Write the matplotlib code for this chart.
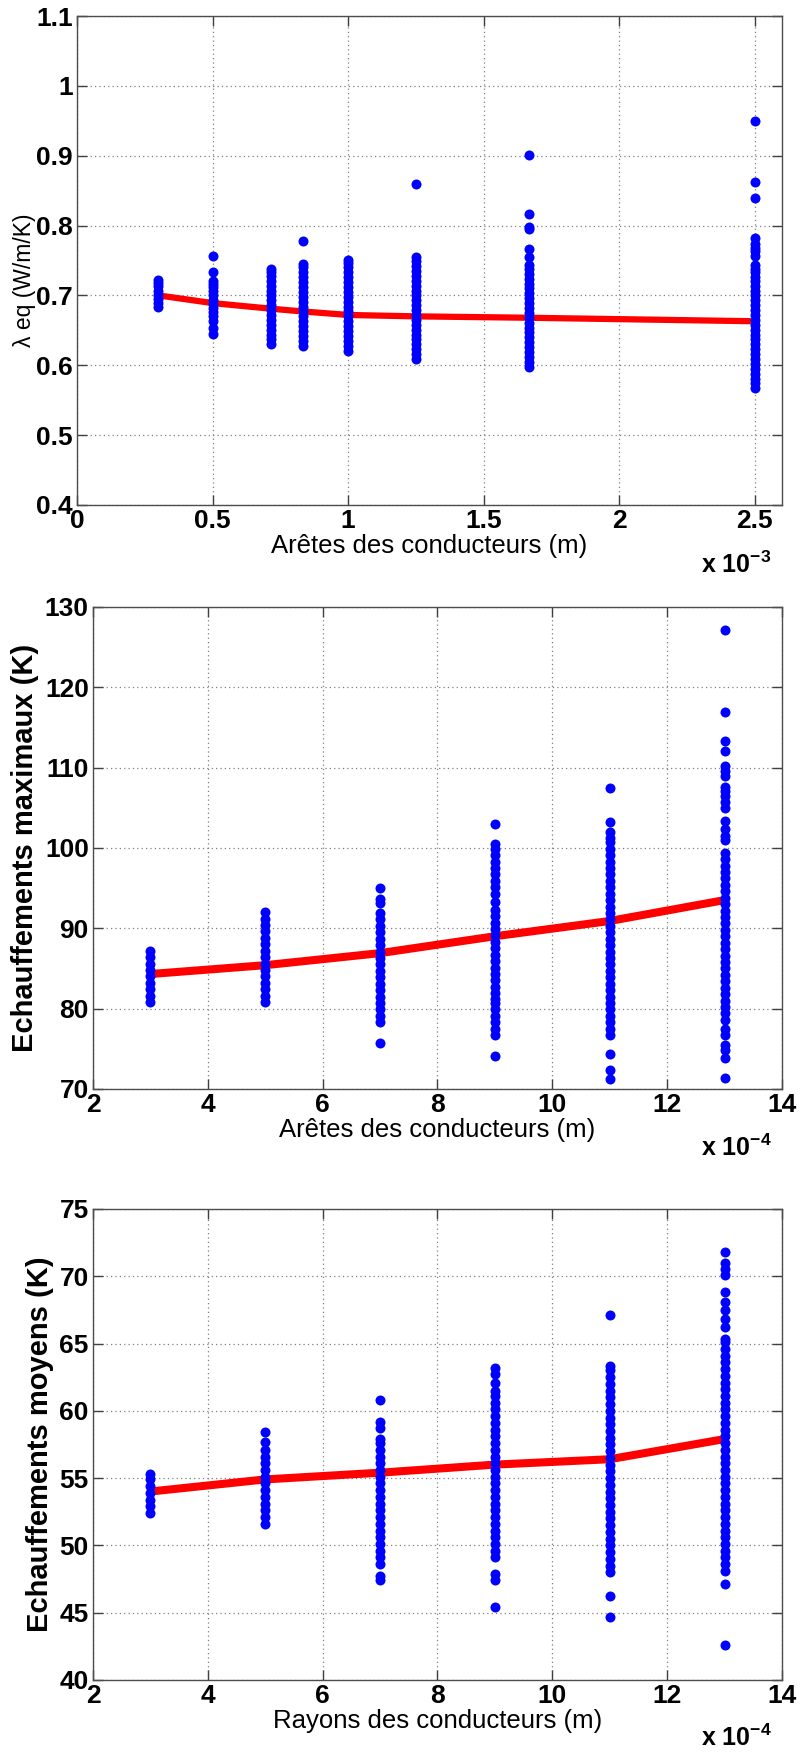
import matplotlib
matplotlib.use("Agg")
import matplotlib.pyplot as plt

# --- panel 1 : lambda eq vs edge length (x 1e-3 m)
p1_x = [0.3, 0.5, 0.714, 0.833, 1.0, 1.25, 1.667, 2.5]
p1_mean = [0.700, 0.689, 0.681, 0.677, 0.672, 0.670, 0.668, 0.663]
p1_pts = [
    [0.683, 0.689, 0.695, 0.701, 0.707, 0.713, 0.718, 0.722],
    [0.645, 0.654, 0.664, 0.670, 0.676, 0.682, 0.688, 0.694, 0.700, 0.706, 0.712, 0.717, 0.721,
     0.733, 0.757],
    [0.630, 0.637, 0.644, 0.651, 0.658, 0.665, 0.672, 0.679, 0.686, 0.693, 0.700, 0.707, 0.714,
     0.721, 0.728, 0.734, 0.738],
    [0.628, 0.635, 0.642, 0.649, 0.656, 0.663, 0.670, 0.677, 0.684, 0.691, 0.698, 0.705, 0.712,
     0.719, 0.726, 0.733, 0.740, 0.745, 0.778],
    [0.621, 0.628, 0.635, 0.642, 0.649, 0.656, 0.663, 0.670, 0.677, 0.684, 0.691, 0.698, 0.705,
     0.712, 0.719, 0.726, 0.733, 0.740, 0.746, 0.750],
    [0.609, 0.616, 0.623, 0.630, 0.637, 0.644, 0.651, 0.658, 0.665, 0.672, 0.679, 0.686, 0.693,
     0.700, 0.707, 0.714, 0.721, 0.728, 0.735, 0.742, 0.749, 0.755, 0.859],
    [0.598, 0.605, 0.612, 0.619, 0.626, 0.633, 0.640, 0.647, 0.654, 0.661, 0.668, 0.675, 0.682,
     0.689, 0.696, 0.703, 0.710, 0.717, 0.724, 0.731, 0.738, 0.743, 0.755, 0.766, 0.795, 0.798,
     0.817, 0.901],
    [0.567, 0.574, 0.581, 0.588, 0.595, 0.602, 0.609, 0.616, 0.623, 0.630, 0.637, 0.644, 0.651,
     0.658, 0.665, 0.672, 0.679, 0.686, 0.693, 0.700, 0.707, 0.714, 0.721, 0.727, 0.733, 0.738,
     0.743, 0.757, 0.763, 0.768, 0.774, 0.782, 0.840, 0.863, 0.949],
]
p1_xticks = [0, 0.5, 1, 1.5, 2, 2.5]
p1_xticklabels = ['0', '0.5', '1', '1.5', '2', '2.5']
p1_yticks = [0.4, 0.5, 0.6, 0.7, 0.8, 0.9, 1.0, 1.1]
p1_yticklabels = ['0.4', '0.5', '0.6', '0.7', '0.8', '0.9', '1', '1.1']

# --- panel 2 : max heating vs edge length (x 1e-4 m)
p2_x = [3, 5, 7, 9, 11, 13]
p2_mean = [84.3, 85.4, 86.9, 89.0, 90.9, 93.5]
p2_pts = [
    [80.8, 81.6, 82.4, 83.2, 84.0, 84.8, 85.6, 86.4, 87.2],
    [80.8, 81.6, 82.4, 83.2, 84.0, 84.8, 85.6, 86.4, 87.2, 88.0, 88.8, 89.6, 90.4, 91.2, 92.0],
    [75.7, 78.3, 79.1, 79.9, 80.7, 81.5, 82.3, 83.1, 83.9, 84.7, 85.5, 86.3, 87.1, 87.9, 88.7,
     89.5, 90.3, 91.1, 91.9, 93.2, 93.6, 95.0],
    [74.1, 76.7, 77.5, 78.3, 79.1, 79.9, 80.7, 81.2, 81.9, 82.7, 83.5, 84.3, 85.1, 85.9, 86.7,
     87.5, 88.3, 89.1, 89.9, 90.7, 91.5, 92.3, 93.3, 94.3, 95.1, 95.9, 96.7, 97.5, 98.3, 99.1,
     99.8, 100.5, 103.0],
    [71.2, 72.3, 74.4, 76.7, 77.5, 78.3, 79.1, 79.9, 80.7, 81.5, 82.3, 83.1, 83.9, 84.7, 85.5,
     86.3, 87.1, 87.9, 88.7, 89.5, 90.3, 91.1, 91.9, 92.7, 93.5, 94.3, 95.1, 95.9, 96.7, 97.5,
     98.3, 99.1, 99.9, 100.7, 101.2, 102.0, 103.2, 107.5],
    [71.3, 73.8, 74.8, 75.5, 76.7, 77.4, 78.6, 79.4, 80.2, 81.0, 81.8, 82.6, 83.4, 84.2, 85.0,
     85.8, 86.6, 87.4, 88.2, 89.0, 89.8, 90.6, 91.4, 92.2, 93.0, 93.8, 94.6, 95.4, 96.2, 97.0,
     97.8, 98.6, 99.4, 101.0, 101.5, 102.4, 103.4, 105.0, 105.7, 106.4, 107.1, 107.6, 109.0,
     109.6, 110.2, 112.0, 113.3, 116.9, 127.1],
]
p2_xticks = [2, 4, 6, 8, 10, 12, 14]
p2_yticks = [70, 80, 90, 100, 110, 120, 130]

# --- panel 3 : mean heating vs radius (x 1e-4 m)
p3_x = [3, 5, 7, 9, 11, 13]
p3_mean = [54.0, 54.9, 55.4, 56.0, 56.4, 57.9]
p3_pts = [
    [52.4, 52.9, 53.4, 53.9, 54.4, 54.9, 55.3],
    [51.6, 52.1, 52.6, 53.1, 53.6, 54.1, 54.6, 55.1, 55.6, 56.1, 56.6, 57.1, 57.7, 58.4],
    [47.4, 47.7, 48.6, 49.1, 49.6, 50.1, 50.6, 51.1, 51.6, 52.1, 52.6, 53.1, 53.6, 54.1, 54.6,
     55.1, 55.6, 56.1, 56.6, 57.1, 57.6, 57.9, 58.7, 59.2, 60.8],
    [45.4, 47.4, 47.9, 49.1, 49.6, 50.1, 50.6, 51.1, 51.6, 52.1, 52.6, 53.1, 53.6, 54.1, 54.6,
     55.1, 55.6, 56.1, 56.6, 57.1, 57.6, 58.1, 58.6, 59.1, 59.6, 60.1, 60.6, 61.1, 61.5, 62.1,
     62.7, 63.2],
    [44.7, 46.2, 48.0, 48.5, 49.0, 49.5, 50.0, 50.5, 51.0, 51.5, 52.0, 52.5, 53.0, 53.5, 54.0,
     54.5, 55.0, 55.5, 56.0, 56.5, 57.0, 57.5, 58.0, 58.5, 59.0, 59.5, 60.0, 60.5, 61.0, 61.5,
     62.0, 62.5, 63.0, 63.3, 67.1],
    [42.6, 47.1, 48.1, 48.6, 49.1, 49.6, 50.1, 50.6, 51.1, 51.6, 52.1, 52.6, 53.1, 53.6, 54.1,
     54.6, 55.1, 55.6, 56.1, 56.6, 57.1, 57.6, 58.1, 58.6, 59.1, 59.6, 60.1, 60.6, 61.1, 61.6,
     62.1, 62.6, 63.1, 63.6, 64.1, 64.6, 65.1, 65.3, 66.2, 66.8, 67.5, 68.1, 68.8, 70.1, 70.5,
     71.0, 71.8],
]
p3_xticks = [2, 4, 6, 8, 10, 12, 14]
p3_yticks = [40, 45, 50, 55, 60, 65, 70, 75]

plt.rcParams['font.family'] = ['Liberation Sans', 'DejaVu Sans']
plt.rcParams['font.weight'] = 'bold'


def draw_panel(ax, xs, means, pts, xlim, ylim, xticks, xticklabels, yticks, yticklabels,
               xlabel, ylabel, ylabel_size, ylabel_weight, expo, line_w):
    ax.plot(xs, means, '-', color=(1, 0, 0), lw=line_w, zorder=2, solid_capstyle='butt')
    for x, col in zip(xs, pts):
        ax.plot([x] * len(col), col, 'o', color=(0, 0, 1), ms=7.2, mew=0, zorder=3)
    ax.set_xlim(*xlim)
    ax.set_ylim(*ylim)
    ax.set_xticks(xticks)
    ax.set_xticklabels(xticklabels)
    ax.set_yticks(yticks)
    ax.set_yticklabels(yticklabels)
    ax.grid(True, linestyle=(0, (1, 2.5)), color='0.5', lw=0.9)
    ax.tick_params(direction='in', length=7, width=1, top=True, right=True,
                   labelsize=19, pad=3, colors='0.25', labelcolor='black')
    for s in ax.spines.values():
        s.set_color('0.3')
        s.set_linewidth(1)
    ax.set_xlabel(xlabel, fontsize=18.5, fontweight='normal', labelpad=1)
    ax.set_ylabel(ylabel, fontsize=ylabel_size, fontweight=ylabel_weight, labelpad=4)
    ax.text(0.985, -0.095, 'x 10$^{\\mathregular{' + expo + '}}$', transform=ax.transAxes,
            ha='right', va='top', fontsize=18, fontweight='bold')


fig = plt.figure(figsize=(8.03, 17.6), dpi=100)

ax1 = fig.add_axes([0.0959, 0.7131, 0.878, 0.2778])
draw_panel(ax1, p1_x, p1_mean, p1_pts, (0, 2.6), (0.4, 1.1), p1_xticks, p1_xticklabels,
           p1_yticks, p1_yticklabels, 'Arêtes des conducteurs (m)', 'λ eq (W/m/K)', 16.5,
           'normal', '-3', 4.5)
ax1.yaxis.set_label_coords(-0.058, 0.46)

ax2 = fig.add_axes([0.1158, 0.3813, 0.858, 0.2739])
draw_panel(ax2, p2_x, p2_mean, p2_pts, (2, 14), (70, 130), p2_xticks,
           [str(v) for v in p2_xticks], p2_yticks, [str(v) for v in p2_yticks],
           'Arêtes des conducteurs (m)', 'Echauffements maximaux (K)', 21, 'bold', '-4', 5.8)

ax3 = fig.add_axes([0.1158, 0.0455, 0.858, 0.2676])
draw_panel(ax3, p3_x, p3_mean, p3_pts, (2, 14), (40, 75), p3_xticks,
           [str(v) for v in p3_xticks], p3_yticks, [str(v) for v in p3_yticks],
           'Rayons des conducteurs (m)', 'Echauffements moyens (K)', 21, 'bold', '-4', 5.8)

fig.savefig('out.png', dpi=100)
